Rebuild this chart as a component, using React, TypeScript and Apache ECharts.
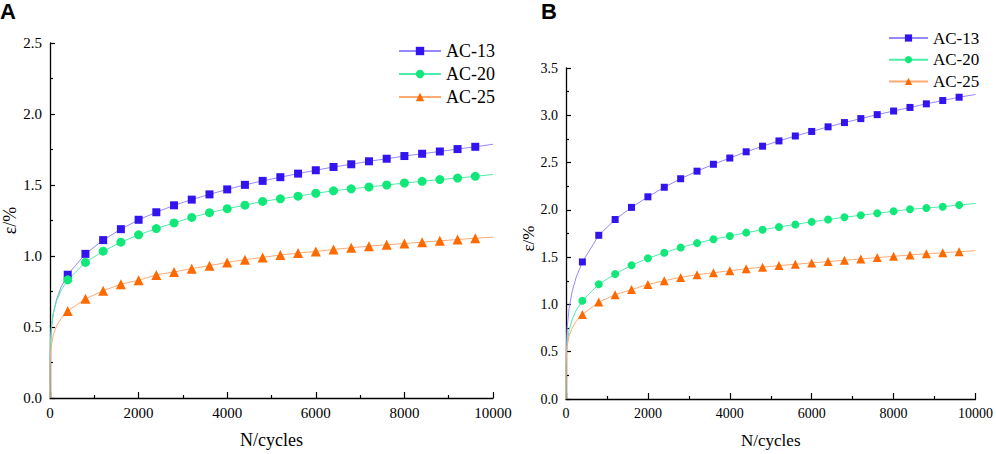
import React, { useEffect, useRef } from "react";
import * as echarts from "echarts";

const seriesNames = ["AC-13", "AC-20", "AC-25"];
const markCycles = [400, 800, 1200, 1600, 2000, 2400, 2800, 3200, 3600, 4000, 4400, 4800, 5200, 5600, 6000, 6400, 6800, 7200, 7600, 8000, 8400, 8800, 9200, 9600];
const headCycles = [0, 2, 10, 30, 75, 150, 250];
const endCycle = 10000;
const xTicks = [0, 2000, 4000, 6000, 8000, 10000];

// Panel A
const aAC13Marks = [0.868, 1.015, 1.112, 1.189, 1.255, 1.308, 1.357, 1.397, 1.434, 1.469, 1.501, 1.529, 1.555, 1.58, 1.604, 1.627, 1.646, 1.667, 1.685, 1.704, 1.72, 1.736, 1.753, 1.769];
const aAC20Marks = [0.832, 0.955, 1.034, 1.097, 1.149, 1.193, 1.233, 1.272, 1.305, 1.333, 1.358, 1.384, 1.403, 1.421, 1.442, 1.459, 1.473, 1.486, 1.5, 1.514, 1.526, 1.538, 1.549, 1.561];
const aAC25Marks = [0.613, 0.699, 0.755, 0.801, 0.829, 0.867, 0.888, 0.911, 0.932, 0.955, 0.974, 0.99, 1.007, 1.021, 1.032, 1.046, 1.058, 1.069, 1.079, 1.088, 1.097, 1.107, 1.116, 1.125];
const aAC13Head = [0, 0.265, 0.38, 0.486, 0.597, 0.697, 0.782];
const aAC20Head = [0, 0.291, 0.401, 0.498, 0.597, 0.685, 0.758];
const aAC25Head = [0, 0.223, 0.303, 0.373, 0.445, 0.508, 0.56];
const aEnds = [1.787, 1.574, 1.133];

// Panel B
const bAC13Marks = [1.449, 1.731, 1.898, 2.026, 2.138, 2.239, 2.329, 2.409, 2.482, 2.548, 2.614, 2.673, 2.729, 2.781, 2.829, 2.878, 2.923, 2.965, 3.007, 3.045, 3.083, 3.121, 3.156, 3.191];
const bAC20Marks = [1.039, 1.213, 1.321, 1.415, 1.488, 1.547, 1.602, 1.648, 1.689, 1.724, 1.759, 1.79, 1.818, 1.846, 1.873, 1.898, 1.922, 1.943, 1.964, 1.985, 2.006, 2.019, 2.033, 2.051];
const bAC25Marks = [0.893, 1.025, 1.102, 1.157, 1.21, 1.251, 1.286, 1.314, 1.335, 1.356, 1.376, 1.394, 1.411, 1.425, 1.439, 1.453, 1.467, 1.481, 1.495, 1.509, 1.522, 1.536, 1.547, 1.557];
const bAC13Head = [0, 0.39, 0.581, 0.762, 0.957, 1.137, 1.29];
const bAC20Head = [0, 0.334, 0.471, 0.596, 0.725, 0.842, 0.939];
const bAC25Head = [0, 0.353, 0.468, 0.567, 0.666, 0.752, 0.823];
const bEnds = [3.22, 2.068, 1.569];

const markerColors = ["#3214ee", "#12e87a", "#ff6a00"];
const lineColors = ["#9688ff", "#4eecaa", "#ffaa74"];
const symbols = ["rect", "circle", "triangle"];

const SERIF = "Liberation Serif";

function curve(head: number[], marks: number[], end: number) {
  return [
    ...headCycles.map((n, i) => [n, head[i]]),
    ...markCycles.map((n, i) => [n, marks[i]]),
    [endCycle, end],
  ];
}

export default function App() {
  const ref = useRef<HTMLDivElement>(null);
  useEffect(() => {
    document.body.style.margin = "0";
    if (!ref.current) return;
    const chart = echarts.init(ref.current, undefined, { renderer: "svg" });

    const aMarks = [aAC13Marks, aAC20Marks, aAC25Marks];
    const aHeads = [aAC13Head, aAC20Head, aAC25Head];
    const bMarks = [bAC13Marks, bAC20Marks, bAC25Marks];
    const bHeads = [bAC13Head, bAC20Head, bAC25Head];
    const markSizeA = [8, 9, 10];
    const markSizeB = [7, 8, 9];

    const lineSeries: any[] = [];
    const scatterSeries: any[] = [];
    [0, 1].forEach((p) => {
      const marks = p === 0 ? aMarks : bMarks;
      const heads = p === 0 ? aHeads : bHeads;
      const ends = p === 0 ? aEnds : bEnds;
      const sizes = p === 0 ? markSizeA : markSizeB;
      seriesNames.forEach((name, i) => {
        lineSeries.push({
          type: "line",
          name,
          xAxisIndex: p,
          yAxisIndex: p,
          data: curve(heads[i], marks[i], ends[i]),
          showSymbol: false,
          symbol: symbols[i],
          symbolSize: sizes[i],
          smooth: false,
          lineStyle: { color: lineColors[i], width: 1 },
          itemStyle: { color: markerColors[i] },
          z: 2,
          silent: true,
        });
        scatterSeries.push({
          type: "scatter",
          name,
          xAxisIndex: p,
          yAxisIndex: p,
          data: markCycles.map((n, k) => [n, marks[i][k]]),
          symbol: symbols[i],
          symbolSize: sizes[i],
          itemStyle: { color: markerColors[i], opacity: 1 },
          z: 3,
          silent: true,
        });
      });
    });

    const xAxis = (gridIndex: number, fs: number, nfs: number) => ({
      type: "value",
      gridIndex,
      min: 0,
      max: 10000,
      interval: 2000,
      name: "N/cycles",
      nameLocation: "middle",
      nameGap: 33,
      nameTextStyle: { fontFamily: SERIF, fontSize: nfs, color: "#000" },
      axisLine: { onZero: false, lineStyle: { color: "#000", width: 1.3 } },
      axisTick: { inside: true, length: 6, lineStyle: { color: "#000", width: 1.2 } },
      minorTick: { show: true, splitNumber: 2, length: 3, lineStyle: { color: "#000", width: 1.2 } },
      splitLine: { show: false },
      axisLabel: {
        fontFamily: SERIF,
        fontSize: fs,
        color: "#000",
        margin: 7,
        formatter: (v: number) => (xTicks.includes(v) ? String(v) : ""),
      },
    });
    const yAxis = (gridIndex: number, max: number, fs: number, nfs: number, gap: number, pad: number[]) => ({
      type: "value",
      gridIndex,
      min: 0,
      max,
      interval: 0.5,
      name: "ε/%",
      nameLocation: "middle",
      nameGap: gap,
      nameTextStyle: { fontFamily: SERIF, fontSize: nfs, color: "#000", padding: pad },
      axisLine: { show: true, onZero: false, lineStyle: { color: "#000", width: 1.3 } },
      axisTick: { show: true, inside: true, length: 5, lineStyle: { color: "#000", width: 1.2 } },
      minorTick: { show: true, splitNumber: 2, length: 3, lineStyle: { color: "#000", width: 1.2 } },
      splitLine: { show: false },
      axisLabel: {
        fontFamily: SERIF,
        fontSize: fs,
        color: "#000",
        margin: 8,
        formatter: (v: number) => v.toFixed(1),
      },
    });

    chart.setOption({
      animation: false,
      backgroundColor: "#fff",
      textStyle: { fontFamily: SERIF },
      grid: [
        { left: 50, top: 43, width: 443, height: 358 },
        { left: 566, top: 68, width: 413, height: 335 },
      ],
      xAxis: [xAxis(0, 15, 18), xAxis(1, 14, 17)],
      yAxis: [yAxis(0, 2.5, 15, 18, 30, [0, 0, 0, 0]), yAxis(1, 3.5, 14, 17, 28, [0, 10, 0, 0])],
      legend: [
        {
          orient: "vertical",
          left: 398,
          top: 42,
          padding: 0,
          itemWidth: 42,
          itemHeight: 10.5,
          itemGap: 5,
          selectedMode: false,
          data: seriesNames,
          textStyle: { fontFamily: SERIF, fontSize: 18, color: "#000", lineHeight: 18 },
        },
        {
          orient: "vertical",
          left: 888,
          top: 29.5,
          padding: 0,
          itemWidth: 39,
          itemHeight: 9,
          itemGap: 4.7,
          selectedMode: false,
          data: seriesNames,
          textStyle: { fontFamily: SERIF, fontSize: 17, color: "#000", lineHeight: 17 },
        },
      ],
      graphic: [
        {
          type: "text",
          left: 0,
          top: 0,
          style: { text: "A", font: "bold 22px Liberation Sans", fill: "#000" },
        },
        {
          type: "text",
          left: 541,
          top: 0,
          style: { text: "B", font: "bold 22px Liberation Sans", fill: "#000" },
        },
      ],
      series: [...lineSeries, ...scatterSeries],
    });
    return () => chart.dispose();
  }, []);
  return <div ref={ref} style={{ width: 996, height: 454 }} />;
}
